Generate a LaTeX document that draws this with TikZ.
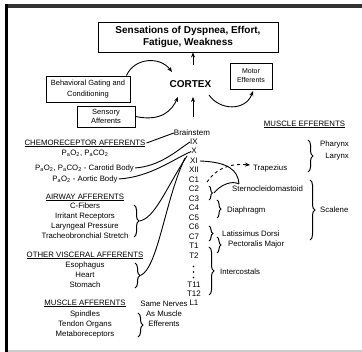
\documentclass[tikz,border=0pt]{standalone}
\usepackage{fontspec}
\setmainfont{Liberation Sans}
\usetikzlibrary{decorations.pathreplacing,arrows.meta}
\begin{document}
\begin{tikzpicture}[x=1pt,y=-1pt,
  txt/.style={font=\fontsize{7.8}{9}\selectfont, inner sep=0pt, text height=5.8pt, text depth=1.6pt},
  nerve/.style={txt, font=\fontsize{8}{9}\selectfont},
  boxed/.style={draw, line width=0.9pt, inner sep=0pt, align=center},
  head/.style={txt},
  conn/.style={line width=0.9pt},
  arr/.style={conn, -{Stealth[length=5pt,width=4pt]}},
  brace/.style={line width=1pt, decorate, decoration={brace, amplitude=#1}},
  brace/.default=4pt]
\useasboundingbox (0,0) rectangle (362,352);
% frame
\fill[black!80] (4.5,4) rectangle (362,8);
\fill[black] (4.5,4) rectangle (8,352);
\draw[black!20, line width=1.2pt] (8,351) -- (362,351);

% top part
\node[boxed, minimum width=180pt, minimum height=30pt, font=\fontsize{10}{12}\selectfont\bfseries] (title) at (188,37) {Sensations of Dyspnea, Effort,\\Fatigue, Weakness};
\node[font=\fontsize{10}{12}\selectfont\bfseries, inner sep=0pt] (cortex) at (190.5,84) {CORTEX};
\node[boxed, minimum width=84pt, minimum height=26pt, font=\fontsize{7.5}{10.5}\selectfont] (behav) at (88,89) {Behavioral Gating and\\Conditioning};
\node[boxed, minimum width=58pt, minimum height=21pt, font=\fontsize{7.5}{9}\selectfont] (sens) at (106,116.5) {Sensory\\Afferents};
\node[boxed, minimum width=42pt, minimum height=26pt, font=\fontsize{7}{9}\selectfont] (motor) at (251,76) {Motor\\Efferents};
\node[txt, font=\fontsize{8}{9}\selectfont] (brain) at (192,133) {Brainstem};

\coordinate (cortexTop) at (193,65);
\coordinate (cortexBot) at (193,97);
\coordinate (brainTop) at (193,117);
\draw[arr] (cortexTop) -- (title.south -| cortexTop);
\draw[arr] (brainTop) -- (cortexBot);
\draw[arr] (behav.north east) ++(-4,0) .. controls +(8,-18) and (160,56) .. (172,72);
\draw[arr] (sens.east) .. controls (162,122) and (172,110) .. (178,97);
\draw[arr] (209,95) .. controls (220,111) and (246,111) .. (253,91);

% left column
\node[head] (chemo) at (85,143) {\underline{CHEMORECEPTOR AFFERENTS}};
\node[txt] (pa) at (85,153) {P\textsubscript{a}O\textsubscript{2}, P\textsubscript{a}CO\textsubscript{2}};
\node[txt] (carot) at (84.5,168) {P\textsubscript{a}O\textsubscript{2}, P\textsubscript{a}CO\textsubscript{2} - Carotid Body};
\node[txt] (aort) at (85,179) {P\textsubscript{a}O\textsubscript{2} - Aortic Body};

\node[head] (airway) at (85,197) {\underline{AIRWAY AFFERENTS}};
\node[txt] (cfib) at (85,206.5) {C-Fibers};
\node[txt] (irr) at (85,216.5) {Irritant Receptors};
\node[txt] (lar) at (85,226.5) {Laryngeal Pressure};
\node[txt] (trach) at (85,236.5) {Tracheobronchial Stretch};

\node[head] (visc) at (85,255) {\underline{OTHER VISCERAL AFFERENTS}};
\node[txt] (eso) at (85,265) {Esophagus};
\node[txt] (heart) at (85,275) {Heart};
\node[txt] (stom) at (85,285) {Stomach};

\node[head] (musaff) at (85,303) {\underline{MUSCLE AFFERENTS}};
\node[txt] (spin) at (85,314) {Spindles};
\node[txt] (tend) at (85,324) {Tendon Organs};
\node[txt] (meta) at (85,334) {Metaboreceptors};
\node[txt, align=center, font=\fontsize{7.8}{9.8}\selectfont] (same) at (164,324) {Same Nerves\\As Muscle\\Efferents};

% nerves
\foreach \lab/\nm/\yy in {IX/nIX/142, X/nX/151.5, XI/nXI/161, XII/nXII/170.5, C1/nCa/180, C2/nCb/189.5, C3/nCc/199, C4/nCd/208.5, C5/nCe/218, C6/nCf/227.5, C7/nCg/237, T1/nTa/246.5, T2/nTb/256, T11/nTk/285, T12/nTl/294, L1/nL/303.5}
  \node[nerve] (\nm) at (194,\yy) {\lab};
\foreach \yy in {266.5,272,277.5} \fill (193.5,\yy) circle (0.8pt);

% right labels
\node[head] (musef) at (304.5,124) {\underline{MUSCLE EFFERENTS}};
\node[txt, align=right, anchor=east, font=\fontsize{7.8}{11.5}\selectfont] (phar) at (349,156) {Pharynx\\Larynx};
\node[txt, anchor=west] (trap) at (253,168) {Trapezius};
\node[txt, anchor=west] (stern) at (232,189) {Sternocleidomastoid};
\node[txt, anchor=west] (diaph) at (227,210) {Diaphragm};
\node[txt, anchor=west] (scal) at (320,210) {Scalene};
\node[txt, anchor=west] (lat) at (222,234) {Latissimus Dorsi};
\node[txt, anchor=west] (pect) at (228,244.5) {Pectoralis Major};
\node[txt, anchor=west] (inter) at (220,272) {Intercostals};

% braces
\draw[brace=5pt] (134,205) -- (134,237);
\draw[brace=5pt] (135,263) -- (135,288);
\draw[brace=5pt] (138,313) -- (138,337);
\draw[brace=5pt] (308,140) -- (308,172);
\draw[brace=5pt] (310,180) -- (310,240);
\draw[brace=3.5pt] (209,186) -- (209,200);
\draw[brace=4pt] (217,200) -- (217,218);
\draw[brace=4pt] (209,226) -- (209,241);
\draw[brace=4pt] (217,237) -- (217,253);
\draw[brace=5pt] (209,247) -- (209,295);

% connectors to brainstem
\draw[conn] (chemo.east) ++(1,0) -- (brain.west);
\draw[conn] (carot.east) ++(1,0) .. controls (160,166) and (175,152) .. (nIX.west);
\draw[conn] (aort.east) ++(1,0) .. controls (150,177) and (172,160) .. (nX.west);
\coordinate (airTip) at (139.5,221);
\coordinate (viscTip) at (140.5,275.5);
\draw[conn] (airTip) .. controls (155,218) and (165,190) .. (187,156);
\draw[conn] (viscTip) .. controls (158,268) and (165,200) .. (185,158);

% XI / C1-C3 connections
\draw[conn] (nXI.east) ++(2,0) .. controls (228,162) and (238,170) .. (239,184);
\draw[conn] (214,193) .. controls (220,185) and (232,180) .. (239,184);
\draw[arr, dashed] (207,182) .. controls (215,170) and (228,163) .. (250,165);
\end{tikzpicture}
\end{document}
